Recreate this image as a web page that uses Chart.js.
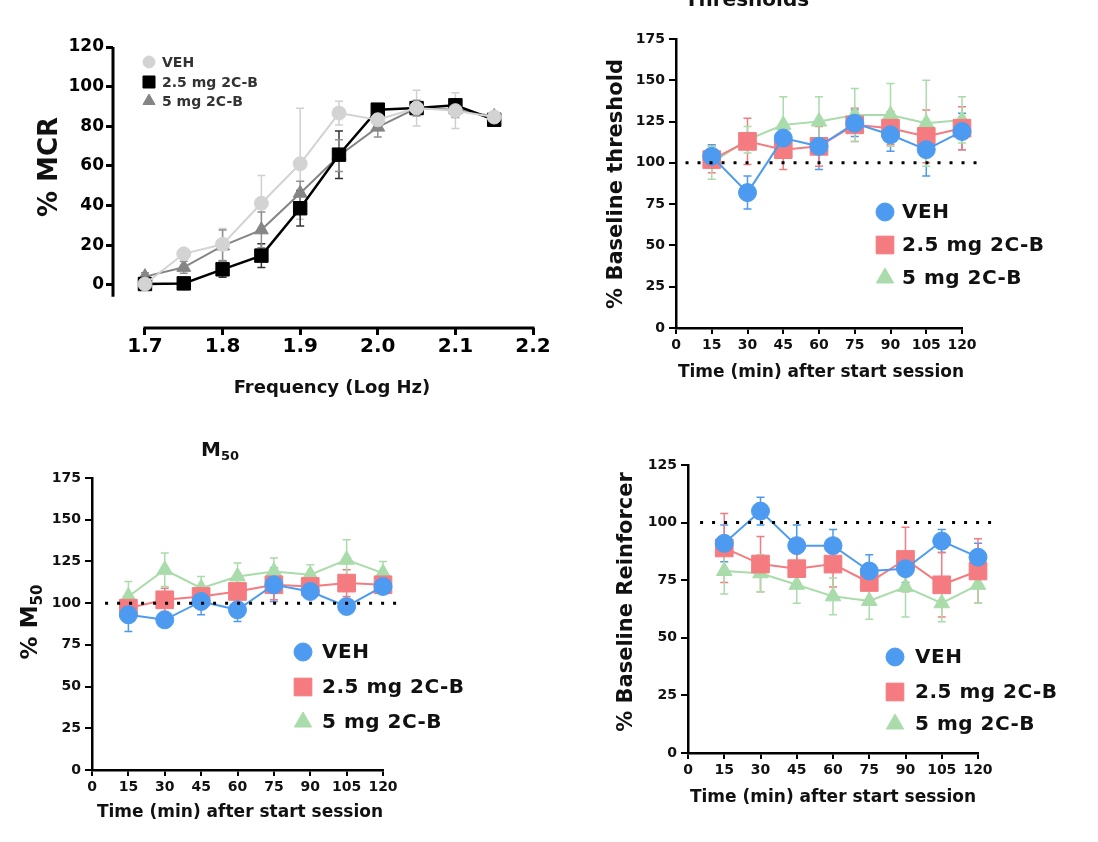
<!DOCTYPE html>
<html>
<head>
<meta charset="utf-8">
<script src="https://cdn.jsdelivr.net/npm/chart.js@4.4.1/dist/chart.umd.min.js"></script>
<style>
html, body { margin: 0; padding: 0; background: #fff; overflow: hidden; }
#wrap { position: relative; width: 1098px; height: 842px; }
#wrap canvas { position: absolute; left: 0; top: 0; }
</style>
</head>
<body>
<div id="wrap">
  <canvas id="mcr" width="1098" height="842"></canvas>
  <canvas id="thr" width="1098" height="842"></canvas>
  <canvas id="m50" width="1098" height="842"></canvas>
  <canvas id="rein" width="1098" height="842"></canvas>
</div>
<script>
// ---- data ----
var freqs = [1.7, 1.75, 1.8, 1.85, 1.9, 1.95, 2.0, 2.05, 2.1, 2.15];
var freqTicks = [1.7, 1.8, 1.9, 2.0, 2.1, 2.2];
var mcrTicks = [0, 20, 40, 60, 80, 100, 120];
var mcrVeh = [0.5, 15.7, 20.5, 41.2, 61.1, 86.7, 83.3, 89.2, 87.9, 84.7];
var mcrVehErr = [1, 2, 8, 14, 28, 6, 3, 9, 9, 2];
var mcr25 = [0.5, 0.8, 7.9, 14.8, 38.7, 65.7, 88.4, 89.2, 90.6, 83.3];
var mcr25Err = [1, 1, 4, 6, 9, 12, 3, 3, 3, 2];
var mcr5 = [4.2, 8.9, 19.7, 27.8, 46.3, 65.2, 79.6, 89.2, 88.4, 85];
var mcr5Err = [2, 3, 8, 9, 6, 8, 5, 4, 4, 2];

var times = [15, 30, 45, 60, 75, 90, 105, 120];

var thrVeh = [104, 82, 115, 110, 124, 117, 108, 119];
var thrVehErr = [7, 10, 8, 14, 8, 10, 16, 11];
var thr25 = [102, 113, 108, 110, 123, 121, 116, 121];
var thr25Err = [8, 14, 12, 12, 10, 10, 16, 13];
var thr5 = [100, 114, 123, 125, 129, 129, 124, 126];
var thr5Err = [10, 8, 17, 15, 16, 19, 26, 14];

var m50Veh = [93, 90, 101, 96, 111, 107, 98, 110];
var m50VehErr = [10, 4, 8, 7, 10, 4, 3, 4];
var m5025 = [97, 102, 104, 107, 111, 110, 112, 111];
var m5025Err = [5, 7, 5, 7, 9, 5, 8, 5];
var m505 = [104, 120, 109, 116, 119, 117, 126, 118];
var m505Err = [9, 10, 7, 8, 8, 6, 12, 7];

var reinVeh = [91, 105, 90, 90, 79, 80, 92, 85];
var reinVehErr = [8, 6, 9, 7, 7, 6, 5, 6];
var rein25 = [89, 82, 80, 82, 74, 84, 73, 79];
var rein25Err = [15, 12, 8, 10, 8, 14, 14, 14];
var rein5 = [79, 78, 73, 68, 66, 72, 65, 73];
var rein5Err = [10, 8, 8, 8, 8, 13, 8, 8];

var labels = ['VEH', '2.5 mg 2C-B', '5 mg 2C-B'];

// ---- drawing helpers ----
var FONT = "'DejaVu Sans', 'Liberation Sans', sans-serif";
var W = 1098, H = 842, YW = 60, XH = 40;

function marker(ctx, style, r, x, y) {
  ctx.beginPath();
  if (style === 'circle') {
    ctx.arc(x, y, r, 0, Math.PI * 2);
  } else if (style === 'rect') {
    var s = r * Math.SQRT1_2;
    ctx.rect(x - s, y - s, 2 * s, 2 * s);
  } else {
    var a = 0;
    for (var k = 0; k < 3; k++) {
      var px = x + Math.sin(a) * r, py = y - Math.cos(a) * r;
      if (k === 0) ctx.moveTo(px, py); else ctx.lineTo(px, py);
      a += Math.PI * 2 / 3;
    }
    ctx.closePath();
  }
  ctx.fill();
  ctx.stroke();
}

var errorBars = {
  id: 'errorBars',
  beforeDatasetsDraw: function(chart) {
    var ctx = chart.ctx, ys = chart.scales.y;
    chart.data.datasets.forEach(function(ds, i) {
      if (!ds.errors) return;
      var meta = chart.getDatasetMeta(i);
      ctx.save();
      ctx.strokeStyle = ds.errColor || ds.borderColor;
      ctx.lineWidth = 1.5;
      var cap = ds.cap || 4;
      meta.data.forEach(function(pt, j) {
        var v = ds.data[j].y, e = ds.errors[j];
        var top = ys.getPixelForValue(v + e), bot = ys.getPixelForValue(v - e);
        ctx.beginPath();
        ctx.moveTo(pt.x, top); ctx.lineTo(pt.x, bot);
        ctx.moveTo(pt.x - cap, top); ctx.lineTo(pt.x + cap, top);
        ctx.moveTo(pt.x - cap, bot); ctx.lineTo(pt.x + cap, bot);
        ctx.stroke();
      });
      ctx.restore();
    });
  }
};

function textPlugin(items) {
  return {
    id: 'texts',
    afterDraw: function(chart) {
      var ctx = chart.ctx;
      items.forEach(function(it) {
        ctx.save();
        ctx.translate(it.x, it.y);
        if (it.rot) ctx.rotate(it.rot);
        var main = 'bold ' + it.size + 'px ' + FONT;
        var subF = 'bold ' + Math.round(it.size * 0.65) + 'px ' + FONT;
        ctx.letterSpacing = (it.sp || 0) + 'px';
        ctx.font = main;
        ctx.fillStyle = it.color || '#111';
        ctx.textBaseline = 'middle';
        ctx.textAlign = 'left';
        var w1 = ctx.measureText(it.t).width, w2 = 0;
        if (it.sub) { ctx.font = subF; w2 = ctx.measureText(it.sub).width; ctx.font = main; }
        var x0 = -(w1 + w2) / 2;
        ctx.fillText(it.t, x0, 0);
        if (it.sub) { ctx.font = subF; ctx.fillText(it.sub, x0 + w1, it.size * 0.3); }
        ctx.restore();
      });
    }
  };
}

function legendPlugin(p) {
  return {
    id: 'inLegend',
    afterDraw: function(chart) {
      var ctx = chart.ctx;
      chart.data.datasets.forEach(function(ds, i) {
        var y = p.ys[i];
        ctx.save();
        ctx.fillStyle = ds.backgroundColor;
        ctx.strokeStyle = ds.borderColor;
        ctx.lineWidth = 1;
        marker(ctx, ds.pointStyle, p.radii[i], p.x, y);
        ctx.font = 'bold ' + p.size + 'px ' + FONT;
        ctx.letterSpacing = (p.sp || 0) + 'px';
        ctx.fillStyle = p.color || '#111';
        ctx.textBaseline = 'middle';
        ctx.textAlign = 'left';
        ctx.fillText(ds.label, p.textX, y + 1);
        ctx.restore();
      });
    }
  };
}

function refLinePlugin(v, from, to) {
  return {
    id: 'refLine',
    afterDatasetsDraw: function(chart) {
      var ctx = chart.ctx, xs = chart.scales.x, ys = chart.scales.y;
      var py = ys.getPixelForValue(v);
      ctx.save();
      ctx.setLineDash([3, 9]);
      ctx.lineWidth = 3;
      ctx.strokeStyle = '#000';
      ctx.beginPath();
      ctx.moveTo(xs.getPixelForValue(from), py);
      ctx.lineTo(xs.getPixelForValue(to), py);
      ctx.stroke();
      ctx.restore();
    }
  };
}

function offsetAxesPlugin(xFrom, xTo, yFrom, yTo) {
  return {
    id: 'offsetAxes',
    beforeDatasetsDraw: function(chart) {
      var ctx = chart.ctx, xs = chart.scales.x, ys = chart.scales.y, a = chart.chartArea;
      ctx.save();
      ctx.strokeStyle = '#000';
      ctx.lineWidth = 3;
      ctx.beginPath();
      ctx.moveTo(a.left, ys.getPixelForValue(yFrom));
      ctx.lineTo(a.left, ys.getPixelForValue(yTo));
      ctx.moveTo(xs.getPixelForValue(xFrom) - 1.5, a.bottom);
      ctx.lineTo(xs.getPixelForValue(xTo) + 1.5, a.bottom);
      ctx.stroke();
      ctx.restore();
    }
  };
}

function series(label, xs, ys, errs, st) {
  return {
    label: label,
    data: xs.map(function(x, i) { return { x: x, y: ys[i] }; }),
    errors: errs,
    borderColor: st.color,
    backgroundColor: st.fill || st.color,
    errColor: st.err,
    cap: st.cap,
    borderWidth: st.lw,
    pointStyle: st.shape,
    pointRadius: st.r,
    pointBorderWidth: 1,
    pointBackgroundColor: st.fill || st.color,
    pointBorderColor: st.color,
    tension: 0,
    clip: false
  };
}

function pad(area) {
  return { left: area.l - YW, right: W - area.r, top: area.t, bottom: H - area.b - XH };
}

function baseOptions(area) {
  return {
    responsive: false,
    animation: false,
    events: [],
    layout: { padding: pad(area) },
    plugins: { legend: { display: false }, tooltip: { enabled: false }, title: { display: false } }
  };
}

// ---- top left: frequency-response curves ----
(function() {
  var opts = baseOptions({ l: 113, r: 533, t: 47, b: 328 });
  opts.scales = {
    x: {
      type: 'linear', min: 1.6588, max: 2.2,
      afterBuildTicks: function(s) { s.ticks = freqTicks.map(function(v) { return { value: v }; }); },
      afterFit: function(s) { s.height = XH; },
      border: { display: false },
      grid: { drawOnChartArea: false, drawTicks: true, tickLength: 7, lineWidth: 3, color: '#000' },
      ticks: { autoSkip: false, maxRotation: 0, padding: 0, color: '#000',
               font: { family: FONT, size: 20, weight: 'bold' },
               callback: function(v) { return Number(v).toFixed(1); } }
    },
    y: {
      min: -21.7, max: 120,
      afterBuildTicks: function(s) { s.ticks = mcrTicks.map(function(v) { return { value: v }; }); },
      afterFit: function(s) { s.width = YW; },
      border: { display: false },
      grid: { drawOnChartArea: false, drawTicks: true, tickLength: 7, lineWidth: 3, color: '#000' },
      ticks: { autoSkip: false, padding: 2, color: '#000', font: { family: FONT, size: 17, weight: 'bold' } }
    }
  };
  new Chart(document.getElementById('mcr'), {
    type: 'line',
    data: {
      datasets: [
        series(labels[0], freqs, mcrVeh, mcrVehErr, { color: '#d3d3d3', err: '#d0d0d0', lw: 2, shape: 'circle', r: 7, cap: 4 }),
        series(labels[1], freqs, mcr25, mcr25Err, { color: '#000000', err: '#333333', lw: 2.5, shape: 'rect', r: 9.5, cap: 4 }),
        series(labels[2], freqs, mcr5, mcr5Err, { color: '#858585', err: '#909090', lw: 2, shape: 'triangle', r: 8, cap: 4 })
      ]
    },
    options: opts,
    plugins: [
      errorBars,
      offsetAxesPlugin(1.7, 2.2, 120, -6),
      legendPlugin({ x: 149, ys: [62, 82, 101], radii: [6, 8.5, 7], textX: 162, size: 14, color: '#333' }),
      textPlugin([
        { t: '% MCR', x: 50, y: 167, rot: -Math.PI / 2, size: 26 },
        { t: 'Frequency (Log Hz)', x: 332, y: 388, size: 18 }
      ])
    ]
  });
})();

// ---- time-course panels ----
var blue = '#4d9bf0', red = '#f47c80', green = '#a9dcaa';

function timeChart(id, area, yMax, sets, leg, texts, ref) {
  var opts = baseOptions(area);
  opts.scales = {
    x: {
      type: 'linear', min: 0, max: 120,
      afterFit: function(s) { s.height = XH; },
      border: { display: true, width: 2.5, color: '#000' },
      grid: { drawOnChartArea: false, drawTicks: true, tickLength: 6, lineWidth: 2, color: '#000' },
      ticks: { stepSize: 15, autoSkip: false, maxRotation: 0, padding: 3, color: '#111',
               font: { family: FONT, size: 14, weight: 'bold' } }
    },
    y: {
      min: 0, max: yMax,
      afterFit: function(s) { s.width = YW; },
      border: { display: true, width: 2.5, color: '#000' },
      grid: { drawOnChartArea: false, drawTicks: true, tickLength: 7, lineWidth: 2, color: '#000' },
      ticks: { stepSize: 25, padding: 4, color: '#111', font: { family: FONT, size: 14, weight: 'bold' } }
    }
  };
  new Chart(document.getElementById(id), {
    type: 'line',
    data: {
      datasets: [
        series(labels[0], times, sets[0], sets[1], { color: blue, lw: 2, shape: 'circle', r: 9, cap: 4 }),
        series(labels[1], times, sets[2], sets[3], { color: red, lw: 2, shape: 'rect', r: 12.5, cap: 4 }),
        series(labels[2], times, sets[4], sets[5], { color: green, lw: 2, shape: 'triangle', r: 9, cap: 4 })
      ]
    },
    options: opts,
    plugins: [
      errorBars,
      refLinePlugin(100, ref[0], ref[1]),
      legendPlugin({ x: leg.x, ys: leg.ys, radii: [9, 12.5, 10], textX: leg.textX, size: 20, sp: 0.5, color: '#111' }),
      textPlugin(texts)
    ]
  });
}

timeChart('thr', { l: 676, r: 962, t: 39, b: 328 }, 175,
  [thrVeh, thrVehErr, thr25, thr25Err, thr5, thr5Err],
  { x: 885, ys: [212, 245, 278], textX: 902 },
  [
    { t: 'Thresholds', x: 747, y: 1, size: 20 },
    { t: '% Baseline threshold', x: 617, y: 184, rot: -Math.PI / 2, size: 21 },
    { t: 'Time (min) after start session', x: 821, y: 373, size: 17 }
  ],
  [4, 128]);

timeChart('m50', { l: 92, r: 383, t: 478, b: 770 }, 175,
  [m50Veh, m50VehErr, m5025, m5025Err, m505, m505Err],
  { x: 303, ys: [652, 687, 722], textX: 322 },
  [
    { t: 'M', sub: '50', x: 220, y: 451, size: 20 },
    { t: '% M', sub: '50', x: 31, y: 622, rot: -Math.PI / 2, size: 23 },
    { t: 'Time (min) after start session', x: 240, y: 813, size: 17 }
  ],
  [5.4, 128]);

timeChart('rein', { l: 688, r: 978, t: 465, b: 753 }, 125,
  [reinVeh, reinVehErr, rein25, rein25Err, rein5, rein5Err],
  { x: 895, ys: [657, 692, 724], textX: 915 },
  [
    { t: '% Baseline Reinforcer', x: 627, y: 602, rot: -Math.PI / 2, size: 21 },
    { t: 'Time (min) after start session', x: 833, y: 798, size: 17 }
  ],
  [5, 129]);
</script>
</body>
</html>
